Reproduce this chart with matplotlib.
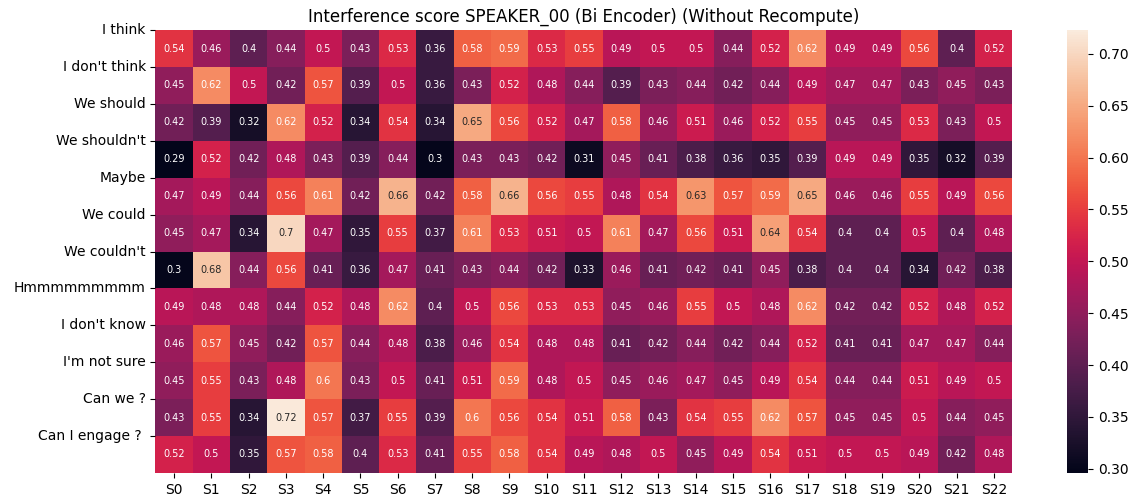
import matplotlib
matplotlib.use('Agg')
import matplotlib.pyplot as plt
import numpy as np
import seaborn as sns

phrases = ["I think", "I don't think", "We should", "We shouldn't", "Maybe",
           "We could", "We couldn't", "Hmmmmmmmmm", "I don't know", "I'm not sure",
           "Can we ?", "Can I engage ? "]
speakers = ["S%d" % i for i in range(23)]

scores = [
    [0.54, 0.46, 0.4, 0.44, 0.5, 0.43, 0.53, 0.36, 0.58, 0.59, 0.53, 0.55, 0.49, 0.5, 0.5, 0.44, 0.52, 0.62, 0.49, 0.49, 0.56, 0.4, 0.52],
    [0.45, 0.62, 0.5, 0.42, 0.57, 0.39, 0.5, 0.36, 0.43, 0.52, 0.48, 0.44, 0.39, 0.43, 0.44, 0.42, 0.44, 0.49, 0.47, 0.47, 0.43, 0.45, 0.43],
    [0.42, 0.39, 0.32, 0.62, 0.52, 0.34, 0.54, 0.34, 0.65, 0.56, 0.52, 0.47, 0.58, 0.46, 0.51, 0.46, 0.52, 0.55, 0.45, 0.45, 0.53, 0.43, 0.5],
    [0.29, 0.52, 0.42, 0.48, 0.43, 0.39, 0.44, 0.3, 0.43, 0.43, 0.42, 0.31, 0.45, 0.41, 0.38, 0.36, 0.35, 0.39, 0.49, 0.49, 0.35, 0.32, 0.39],
    [0.47, 0.49, 0.44, 0.56, 0.61, 0.42, 0.66, 0.42, 0.58, 0.66, 0.56, 0.55, 0.48, 0.54, 0.63, 0.57, 0.59, 0.65, 0.46, 0.46, 0.55, 0.49, 0.56],
    [0.45, 0.47, 0.34, 0.7, 0.47, 0.35, 0.55, 0.37, 0.61, 0.53, 0.51, 0.5, 0.61, 0.47, 0.56, 0.51, 0.64, 0.54, 0.4, 0.4, 0.5, 0.4, 0.48],
    [0.3, 0.68, 0.44, 0.56, 0.41, 0.36, 0.47, 0.41, 0.43, 0.44, 0.42, 0.33, 0.46, 0.41, 0.42, 0.41, 0.45, 0.38, 0.4, 0.4, 0.34, 0.42, 0.38],
    [0.49, 0.48, 0.48, 0.44, 0.52, 0.48, 0.62, 0.4, 0.5, 0.56, 0.53, 0.53, 0.45, 0.46, 0.55, 0.5, 0.48, 0.62, 0.42, 0.42, 0.52, 0.48, 0.52],
    [0.46, 0.57, 0.45, 0.42, 0.57, 0.44, 0.48, 0.38, 0.46, 0.54, 0.48, 0.48, 0.41, 0.42, 0.44, 0.42, 0.44, 0.52, 0.41, 0.41, 0.47, 0.47, 0.44],
    [0.45, 0.55, 0.43, 0.48, 0.6, 0.43, 0.5, 0.41, 0.51, 0.59, 0.48, 0.5, 0.45, 0.46, 0.47, 0.45, 0.49, 0.54, 0.44, 0.44, 0.51, 0.49, 0.5],
    [0.43, 0.55, 0.34, 0.72, 0.57, 0.37, 0.55, 0.39, 0.6, 0.56, 0.54, 0.51, 0.58, 0.43, 0.54, 0.55, 0.62, 0.57, 0.45, 0.45, 0.5, 0.44, 0.45],
    [0.52, 0.5, 0.35, 0.57, 0.58, 0.4, 0.53, 0.41, 0.55, 0.58, 0.54, 0.49, 0.48, 0.5, 0.45, 0.49, 0.54, 0.51, 0.5, 0.5, 0.49, 0.42, 0.48],
]

fig = plt.figure(figsize=(11.35, 5.01), dpi=100)
ax = fig.add_axes([0.137, 0.056, 0.755, 0.884])
cax = fig.add_axes([0.940, 0.056, 0.019, 0.884])

# the unrounded scores ran a bit past the printed min/max
sns.heatmap(np.array(scores), annot=True, annot_kws={'size': 7},
            vmin=0.296, vmax=0.723,
            xticklabels=speakers, ax=ax, cbar_ax=cax)

# labels sit on the row boundaries, like the original
ax.set_yticks(range(len(phrases)))
ax.set_yticklabels(phrases, rotation=0)
ax.set_title("Interference score SPEAKER_00 (Bi Encoder) (Without Recompute)")

plt.savefig('out.png')
